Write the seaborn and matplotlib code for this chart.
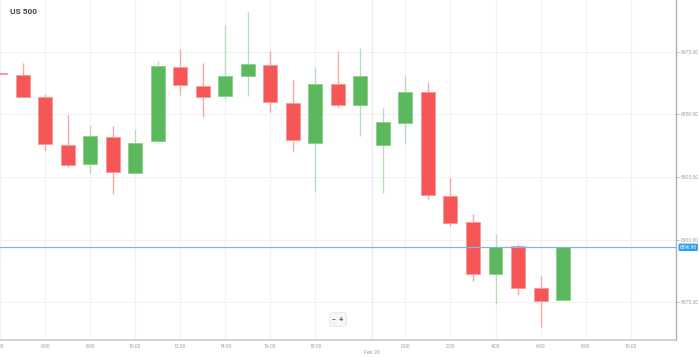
import numpy as np
import pandas as pd
import seaborn as sns
import matplotlib.pyplot as plt

# hourly candles, US 500 (break between 20:00 and 23:00)
hours = ["4:00", "5:00", "6:00", "7:00", "8:00", "9:00", "10:00", "11:00", "12:00",
         "13:00", "14:00", "15:00", "16:00", "17:00", "18:00", "19:00", "20:00",
         "23:00", "0:00", "1:00", "2:00", "3:00", "4:00", "5:00", "6:00", "7:00"]
opens = [6966.3, 6965.6, 6957.0, 6937.8, 6930.2, 6941.1, 6926.6, 6939.2, 6969.0,
         6961.4, 6957.2, 6965.2, 6969.6, 6954.5, 6938.6, 6962.2, 6953.7,
         6937.6, 6946.7, 6959.0, 6917.3, 6907.0, 6886.3, 6897.5, 6880.6, 6875.8]
highs = [6966.3, 6970.5, 6958.1, 6949.7, 6945.8, 6945.4, 6944.0, 6971.2, 6976.0,
         6970.4, 6985.7, 6990.7, 6975.3, 6963.6, 6969.0, 6975.3, 6976.5,
         6952.5, 6965.7, 6963.0, 6924.7, 6910.4, 6902.4, 6898.4, 6885.4, 6896.98]
lows = [6965.9, 6956.9, 6935.5, 6929.0, 6926.6, 6918.1, 6926.6, 6938.7, 6957.7,
        6948.8, 6956.0, 6957.4, 6951.1, 6935.4, 6919.1, 6952.5, 6941.4,
        6918.7, 6938.6, 6916.3, 6905.6, 6883.6, 6874.2, 6877.8, 6865.3, 6875.8]
closes = [6965.9, 6956.9, 6938.0, 6929.9, 6941.4, 6926.9, 6938.7, 6969.3, 6961.6,
          6957.0, 6965.3, 6970.1, 6954.9, 6939.8, 6962.0, 6953.6, 6965.3,
          6946.8, 6959.0, 6917.8, 6906.6, 6886.3, 6897.1, 6880.7, 6875.4, 6896.98]

tick_labels = ["4:00", "6:00", "8:00", "10:00", "12:00", "14:00", "16:00", "18:00",
               "0:00", "2:00", "4:00", "6:00", "8:00", "10:00"]
tick_pos = [0, 2, 4, 6, 8, 10, 12, 14, 18, 20, 22, 24, 26, 28]
y_ticks = [6875, 6900, 6925, 6950, 6975]

df = pd.DataFrame({"hour": hours, "open": opens, "high": highs,
                   "low": lows, "close": closes})
df["x"] = np.arange(len(df))
df["up"] = df["close"] >= df["open"]

sns.set_theme(style="white")
plt.rcParams["font.family"] = ["Roboto", "DejaVu Sans"]

fig = plt.figure(figsize=(6.99, 3.57), dpi=100)
ax = fig.add_axes([0, 17 / 357, 675.7 / 699, 340 / 357])

red = "#f55757"
green = "#5cb85c"
red_wick = "#f8a7a7"
green_wick = "#b9ddb9"

# grid
for t in y_ticks:
    ax.axhline(t, color="#f2f2f2", lw=0.8, zorder=0)
for p in tick_pos:
    ax.axvline(p, color="#f2f2f2", lw=0.8, zorder=0)
ax.axvline(16.5, color="#ebebeb", lw=1.0, zorder=0)

# wicks
for up, sub in df.groupby("up"):
    ax.vlines(sub["x"], sub["low"], sub["high"],
              color=green_wick if up else red_wick, lw=1.0, zorder=1)

# bodies
body_bottom = df[["open", "close"]].min(axis=1)
body_height = (df["close"] - df["open"]).abs()
colors = [green if u else red for u in df["up"]]
edges = ["#8fd08f" if u else "#f89a9a" for u in df["up"]]
ax.bar(df["x"], body_height, bottom=body_bottom, width=0.62,
       color=colors, edgecolor=edges, linewidth=0.7, zorder=2)

# current price line
last = closes[-1]
ax.axhline(last, color="#7cb5ec", lw=0.9, zorder=3)

ax.set_xlim(0, 30)
ax.set_ylim(6860.0, 6995.6)

ax.set_xticks(tick_pos)
ax.set_xticklabels(tick_labels)
ax.yaxis.tick_right()
ax.set_yticks(y_ticks)
ax.set_yticklabels([f"{t:.2f}" for t in y_ticks])
ax.tick_params(axis="both", labelsize=3.6, colors="#a0a0a0", length=2, width=0.5,
               pad=1.2)
ax.tick_params(axis="x", length=0, pad=3)

for s in ["top", "left"]:
    ax.spines[s].set_visible(False)
ax.spines["bottom"].set_color("#cccccc")
ax.spines["bottom"].set_linewidth(1.2)
ax.spines["right"].set_color("#b0b0b0")
ax.spines["right"].set_linewidth(1.0)

ax.text(16.5, -12 / 340, "Feb '26", transform=ax.get_xaxis_transform(),
        ha="center", va="center", fontsize=3.6, color="#a0a0a0")
ax.text(1.006, last, f"{last:.2f}", transform=ax.get_yaxis_transform(),
        ha="left", va="center", fontsize=3.4, color="white",
        bbox=dict(boxstyle="round,pad=0.25", fc="#2d9bf0", ec="none"))

ax.text(10 / 675.7, 1 - 11 / 340, "US 500", transform=ax.transAxes,
        ha="left", va="center", fontsize=6, fontweight="bold", color="#444444")

# zoom buttons
ax.text(338 / 675.7, 1 - 319.5 / 340, "\u2212  +", transform=ax.transAxes,
        ha="center", va="center", fontsize=5, fontweight="bold", color="#555555",
        bbox=dict(boxstyle="round,pad=0.4", fc="#f7f7f7", ec="#e0e0e0", lw=0.5))

fig.savefig("out.png", dpi=100)
